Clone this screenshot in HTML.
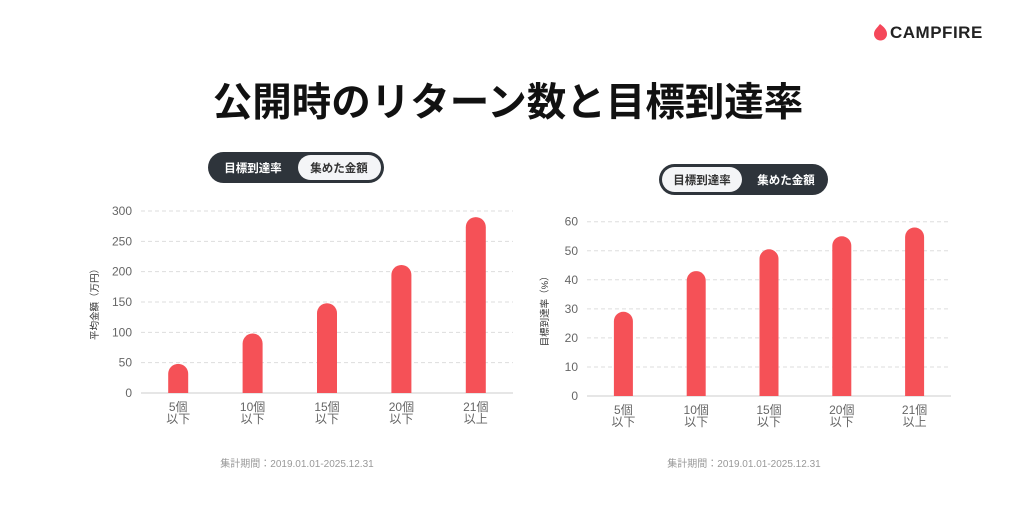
<!DOCTYPE html>
<html><head><meta charset="utf-8">
<style>
body{margin:0;width:1024px;height:501px;background:#fff;overflow:hidden;font-family:"Liberation Sans","Noto Sans CJK JP",sans-serif;}
svg text{font-family:"Liberation Sans","Noto Sans CJK JP",sans-serif;}
</style></head>
<body>
<svg id="s" width="1024" height="501" xmlns="http://www.w3.org/2000/svg">
  <g>
    <path d="M880,24 C884,27 887,30 887,34 A6.5,6.5 0 1 1 874,34 C874,30 877,28 880,24 Z" fill="#f5475a"/>
    <text x="890" y="38" font-size="17" font-weight="bold" fill="#222" letter-spacing="0.5">CAMPFIRE</text>
  </g>
  <text x="508" y="116" text-anchor="middle" font-size="39.5" font-weight="bold" fill="#111">公開時のリターン数と目標到達率</text>

  <g>
    <rect x="208" y="152" width="176" height="31" rx="15.5" fill="#2e343b"/>
    <rect x="298" y="155" width="83" height="25" rx="12.5" fill="#f4f5f7"/>
    <text x="253" y="172" text-anchor="middle" font-size="11.5" font-weight="bold" fill="#fff">目標到達率</text>
    <text x="339" y="172" text-anchor="middle" font-size="11.5" font-weight="bold" fill="#333">集めた金額</text>
  </g>
  <g>
    <rect x="659" y="164" width="169" height="31" rx="15.5" fill="#2e343b"/>
    <rect x="662" y="167" width="80" height="25" rx="12.5" fill="#f4f5f7"/>
    <text x="702" y="184" text-anchor="middle" font-size="11.5" font-weight="bold" fill="#333">目標到達率</text>
    <text x="786" y="184" text-anchor="middle" font-size="11.5" font-weight="bold" fill="#fff">集めた金額</text>
  </g>
  <g id="c1"></g>
  <g id="c2"></g>
  <text x="297" y="467" text-anchor="middle" font-size="10" fill="#999">集計期間：2019.01.01-2025.12.31</text>
  <text x="744" y="467" text-anchor="middle" font-size="10" fill="#999">集計期間：2019.01.01-2025.12.31</text>
</svg>
<script>
const categories = ["5個|以下","10個|以下","15個|以下","20個|以下","21個|以上"];
const amountValues = [48, 98, 148, 211, 290];
const amountTicks = [0,50,100,150,200,250,300];
const rateValues = [29, 43, 50.5, 55, 58];
const rateTicks = [0,10,20,30,40,50,60];

const NS="http://www.w3.org/2000/svg";
function mk(tag,attrs,parent){const e=document.createElementNS(NS,tag);for(const k in attrs)e.setAttribute(k,attrs[k]);parent.appendChild(e);return e;}

function draw(g,cfg,vals,ticks,title){
  const max=ticks[ticks.length-1];
  const y=v=>cfg.y0-(v/max)*(cfg.y0-cfg.yTop);
  const step=(cfg.x1-cfg.x0)/categories.length;
  const x=i=>cfg.x0+step*(i+0.5);
  ticks.forEach(t=>{
    if(t>0){const l=mk('line',{x1:cfg.x0,x2:cfg.x1,y1:y(t),y2:y(t),stroke:'#ddd','stroke-dasharray':'4,3'},g);
    
    }
    const tx=mk('text',{x:cfg.x0-9,y:y(t)+4,'text-anchor':'end','font-size':12,fill:'#666'},g);
    tx.textContent=t;
    
    
  });
  const ax=mk('line',{x1:cfg.x0,x2:cfg.x1,y1:cfg.y0,y2:cfg.y0,stroke:'#ccc'},g);
  
  
  vals.forEach((v,i)=>{
    const w=cfg.bw, top=y(v);
    const p=mk('path',{d:`M${x(i)-w/2},${cfg.y0} V${top+w/2} A${w/2},${w/2} 0 0 1 ${x(i)+w/2},${top+w/2} V${cfg.y0} Z`,fill:'#f55157'},g);
    
    
    const parts=categories[i].split('|');
    parts.forEach((s,j)=>{
      const t=mk('text',{x:x(i),y:cfg.y0+18+j*12,'text-anchor':'middle','font-size':12,fill:'#666'},g);
      t.textContent=s;
      
      
    });
  });
  const yt=mk('text',{x:0,y:0,'text-anchor':'middle','font-size':9.5,fill:'#333',transform:`translate(${cfg.tx},${(cfg.y0+cfg.yTop)/2}) rotate(-90)`},g);
  yt.textContent=title;
  
  
}
draw(document.getElementById('c1'),{x0:141,x1:513,y0:393,yTop:211,bw:20,tx:98},amountValues,amountTicks,'平均金額（万円）');
draw(document.getElementById('c2'),{x0:587,x1:951,y0:396,yTop:221.7,bw:19,tx:548},rateValues,rateTicks,'目標到達率（%）');
</script>
</body></html>
